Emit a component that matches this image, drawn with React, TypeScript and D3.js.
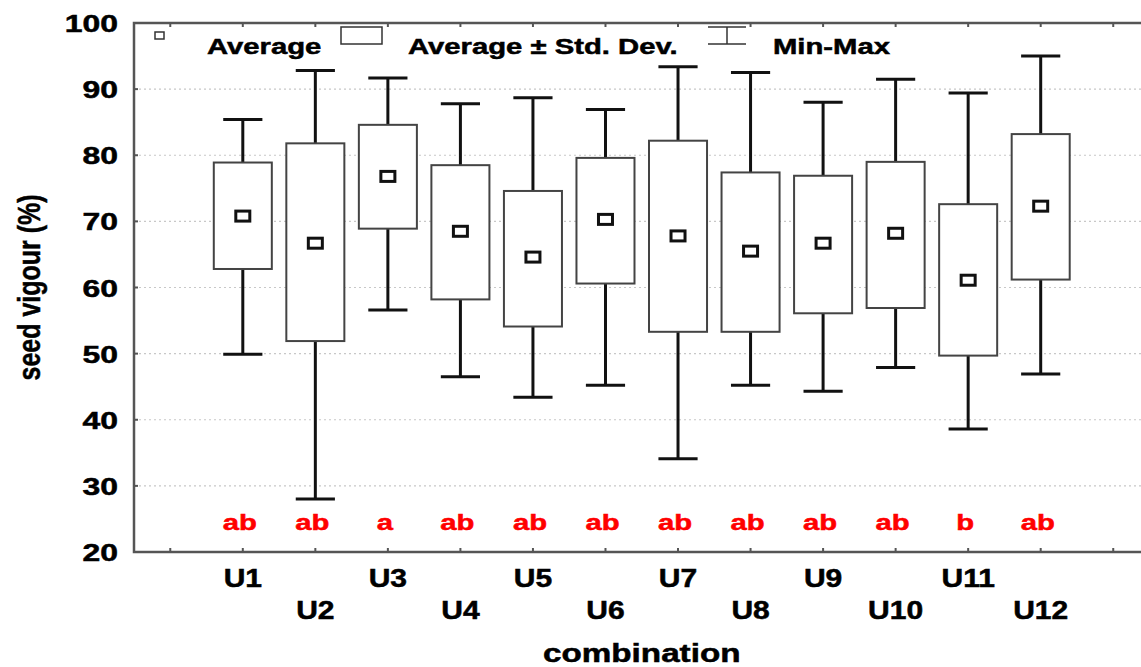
import * as d3 from "d3";
import { useEffect, useRef } from "react";

const categories = ["U1", "U2", "U3", "U4", "U5", "U6", "U7", "U8", "U9", "U10", "U11", "U12"];
const averages = [70.8, 66.7, 76.8, 68.5, 64.6, 70.3, 67.8, 65.5, 66.7, 68.2, 61.1, 72.3];
const sdLow = [62.8, 51.9, 68.9, 58.2, 54.1, 60.6, 53.3, 53.3, 56.1, 56.9, 49.7, 61.2];
const sdHigh = [78.9, 81.8, 84.6, 78.5, 74.6, 79.6, 82.2, 77.4, 76.9, 79.0, 72.6, 83.2];
const minValues = [49.9, 28.0, 56.6, 46.5, 43.4, 45.2, 34.1, 45.2, 44.3, 47.9, 38.6, 46.9];
const maxValues = [85.4, 92.8, 91.7, 87.8, 88.7, 86.9, 93.4, 92.5, 88.0, 91.5, 89.4, 95.0];
const groupLetters = ["ab", "ab", "a", "ab", "ab", "ab", "ab", "ab", "ab", "ab", "b", "ab"];
const yTicks = [20, 30, 40, 50, 60, 70, 80, 90, 100];
const gridTicks = [30, 40, 50, 60, 70, 80, 90];

const App = () => {
  const svgRef = useRef<SVGSVGElement>(null);

  useEffect(() => {
    document.body.style.margin = "0";
    if (!svgRef.current) return;
    const svg = d3.select(svgRef.current);
    svg.selectAll("*").remove();

    const width = 1141;
    const height = 667;
    const left = 134;
    const right = 1149.5;
    const top = 23;
    const bottom = 552;
    const sx = 1.33; // the picture is stretched sideways
    const font = "'Liberation Sans', Arial, sans-serif";

    const data = categories.map((c, i) => ({
      name: c,
      idx: i + 1,
      mean: averages[i],
      lo: sdLow[i],
      hi: sdHigh[i],
      min: minValues[i],
      max: maxValues[i],
      letter: groupLetters[i],
    }));

    const x = d3.scaleLinear().domain([-0.5, 13.5]).range([left, right]);
    const y = d3.scaleLinear().domain([20, 100]).range([bottom, top]);
    const boxW = x(0.8) - x(0);
    const capW = x(0.54) - x(0);

    svg.attr("width", width).attr("height", height).attr("viewBox", [0, 0, width, height]);

    // grid
    svg
      .append("g")
      .selectAll()
      .data(gridTicks)
      .join("line")
      .attr("x1", left)
      .attr("x2", right)
      .attr("y1", (d) => y(d))
      .attr("y2", (d) => y(d))
      .attr("stroke", "#c8c8c8")
      .attr("stroke-width", 1.2)
      .attr("stroke-dasharray", "2,3");

    // whiskers
    const wg = svg.append("g").attr("stroke", "#111").attr("stroke-width", 3);
    data.forEach((d) => {
      const cx = x(d.idx);
      wg.append("line").attr("x1", cx).attr("x2", cx).attr("y1", y(d.max)).attr("y2", y(d.hi));
      wg.append("line").attr("x1", cx).attr("x2", cx).attr("y1", y(d.lo)).attr("y2", y(d.min));
      wg.append("line").attr("x1", cx - capW / 2).attr("x2", cx + capW / 2).attr("y1", y(d.max)).attr("y2", y(d.max));
      wg.append("line").attr("x1", cx - capW / 2).attr("x2", cx + capW / 2).attr("y1", y(d.min)).attr("y2", y(d.min));
    });

    // boxes
    svg
      .append("g")
      .selectAll()
      .data(data)
      .join("rect")
      .attr("x", (d) => x(d.idx) - boxW / 2)
      .attr("y", (d) => y(d.hi))
      .attr("width", boxW)
      .attr("height", (d) => y(d.lo) - y(d.hi))
      .attr("fill", "white")
      .attr("stroke", "#444")
      .attr("stroke-width", 2);

    // averages
    svg
      .append("g")
      .selectAll()
      .data(data)
      .join("rect")
      .attr("x", (d) => x(d.idx) - 7)
      .attr("y", (d) => y(d.mean) - 5)
      .attr("width", 14)
      .attr("height", 10)
      .attr("fill", "white")
      .attr("stroke", "#111")
      .attr("stroke-width", 3);

    // frame
    svg
      .append("rect")
      .attr("x", left)
      .attr("y", top)
      .attr("width", right - left)
      .attr("height", bottom - top)
      .attr("fill", "none")
      .attr("stroke", "#555")
      .attr("stroke-width", 2.5);

    // ticks
    const tg = svg.append("g").attr("stroke", "#555").attr("stroke-width", 2);
    d3.range(0, 14).forEach((k) => {
      tg.append("line").attr("x1", x(k)).attr("x2", x(k)).attr("y1", bottom).attr("y2", bottom - 4);
      tg.append("line").attr("x1", x(k)).attr("x2", x(k)).attr("y1", top).attr("y2", top + 4);
    });
    yTicks.forEach((t) => {
      tg.append("line").attr("x1", left).attr("x2", left + 4).attr("y1", y(t)).attr("y2", y(t));
    });

    const label = (
      tx: number,
      ty: number,
      text: string,
      size: number,
      anchor: string,
      color = "#000",
      scale = sx
    ) =>
      svg
        .append("text")
        .attr("transform", `translate(${tx},${ty}) scale(${scale},1)`)
        .attr("text-anchor", anchor)
        .attr("font-family", font)
        .attr("font-weight", "bold")
        .attr("font-size", size)
        .attr("fill", color)
        .attr("stroke", color)
        .attr("stroke-width", 0.5)
        .text(text);

    // y tick labels
    yTicks.forEach((t) => label(118, y(t) + 9, String(t), 24, "end"));

    // x labels, staggered
    data.forEach((d, i) => label(x(d.idx), i % 2 === 0 ? 587 : 619, d.name, 25, "middle", "#000", 1.2));

    // group letters
    data.forEach((d) => label(x(d.idx) - 3, 530, d.letter, 22, "middle", "#ff0000"));

    // axis titles
    label((left + right) / 2, 662, "combination", 25, "middle");
    svg
      .append("text")
      .attr("transform", `translate(40,${(top + bottom) / 2}) rotate(-90) scale(1,1.25)`)
      .attr("text-anchor", "middle")
      .attr("font-family", font)
      .attr("font-weight", "bold")
      .attr("font-size", 25)
      .attr("fill", "#000")
      .attr("stroke", "#000")
      .attr("stroke-width", 0.4)
      .text("seed vigour (%)");

    // legend
    const lg = svg.append("g");
    lg.append("rect")
      .attr("x", 155)
      .attr("y", 32)
      .attr("width", 9)
      .attr("height", 7)
      .attr("fill", "white")
      .attr("stroke", "#333")
      .attr("stroke-width", 1.5);
    label(207, 54, "Average", 22, "start");
    lg.append("rect")
      .attr("x", 341)
      .attr("y", 27)
      .attr("width", 41)
      .attr("height", 17)
      .attr("fill", "white")
      .attr("stroke", "#333")
      .attr("stroke-width", 1.5);
    label(408, 54, "Average ± Std. Dev.", 22, "start");
    lg.append("line").attr("x1", 708).attr("x2", 746).attr("y1", 27).attr("y2", 27).attr("stroke", "#333").attr("stroke-width", 1.5);
    lg.append("line").attr("x1", 708).attr("x2", 746).attr("y1", 44).attr("y2", 44).attr("stroke", "#333").attr("stroke-width", 1.5);
    lg.append("line").attr("x1", 727).attr("x2", 727).attr("y1", 27).attr("y2", 44).attr("stroke", "#333").attr("stroke-width", 1.5);
    label(773, 54, "Min-Max", 22, "start");
  }, []);

  return <svg ref={svgRef} style={{ display: "block" }}></svg>;
};

export default App;
